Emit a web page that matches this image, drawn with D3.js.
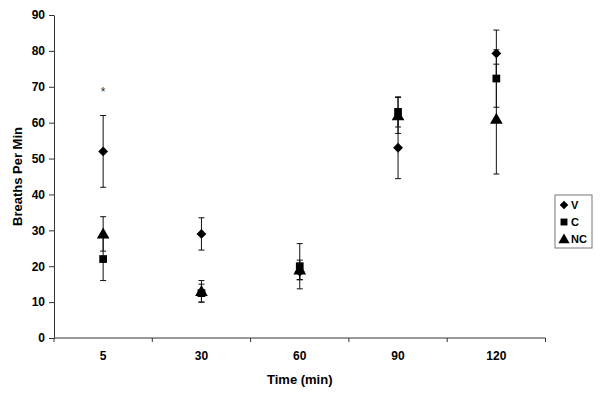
<!DOCTYPE html>
<html>
<head>
<meta charset="utf-8">
<script src="https://cdn.jsdelivr.net/npm/d3@7"></script>
<style>
  body { margin: 0; background: #fff; }
  svg { display: block; font-family: "Liberation Sans", Arial, sans-serif; }
</style>
</head>
<body>
<div id="chart"></div>
<script>
// 数据
const times = ['5', '30', '60', '90', '120'];
const yTicks = [0, 10, 20, 30, 40, 50, 60, 70, 80, 90];
const valuesV = [52, 29, 18.5, 53, 79.3];
const errorsV = [10, 4.5, 2.3, 8.6, 6.5];
const valuesC = [22, 12.5, 20, 63, 72.3];
const errorsC = [6, 2.5, 6.3, 4.2, 8];
const valuesNC = [29, 13, 19, 62, 61];
const errorsNC = [4.8, 3, 2.7, 5, 15.3];
const starNotes = [{ time: '5', value: 69.5, text: '*' }];

const width = 600, height = 394;
const margin = { top: 15, right: 54.5, bottom: 56, left: 54 };
const innerW = width - margin.left - margin.right;
const innerH = height - margin.top - margin.bottom;

const svg = d3.select('#chart').append('svg')
    .attr('width', width)
    .attr('height', height);

const g = svg.append('g')
    .attr('transform', `translate(${margin.left},${margin.top})`);

// 比例尺
const x = d3.scaleBand().domain(times).range([0, innerW]).padding(0);
const y = d3.scaleLinear().domain([0, 90]).range([innerH, 0]);

// y轴
const yAxis = g.append('g')
    .call(d3.axisLeft(y).tickValues(yTicks).tickSize(5).tickSizeOuter(0).tickPadding(4));
yAxis.select('.domain').attr('stroke', '#333');
yAxis.selectAll('.tick line').attr('stroke', '#333');
yAxis.selectAll('.tick text')
    .style('font-size', '12px').style('font-weight', 'bold').attr('fill', '#000');

// x轴 (刻度在类别边界)
const xAxisG = g.append('g').attr('transform', `translate(0,${innerH})`);
xAxisG.append('line')
    .attr('x1', 0).attr('x2', innerW)
    .attr('stroke', '#333');
const bounds = times.map(t => x(t)).concat([innerW]);
xAxisG.selectAll('.xtick')
    .data(bounds)
    .join('line')
    .attr('class', 'xtick')
    .attr('x1', d => d).attr('x2', d => d)
    .attr('y1', 0).attr('y2', 4)
    .attr('stroke', '#333');
xAxisG.selectAll('.xlabel')
    .data(times)
    .join('text')
    .attr('class', 'xlabel')
    .attr('x', d => x(d) + x.bandwidth() / 2)
    .attr('y', 22)
    .attr('text-anchor', 'middle')
    .style('font-size', '12px')
    .style('font-weight', 'bold')
    .text(d => d);

// 轴标题
svg.append('text')
    .attr('x', margin.left + innerW / 2)
    .attr('y', 384)
    .attr('text-anchor', 'middle')
    .style('font-size', '13px')
    .style('font-weight', 'bold')
    .text('Time (min)');

svg.append('text')
    .attr('transform', `translate(22,${margin.top + innerH / 2}) rotate(-90)`)
    .attr('text-anchor', 'middle')
    .style('font-size', '13px')
    .style('font-weight', 'bold')
    .text('Breaths Per Min');

// 标记符号
const symbols = {
    V: d3.symbol().type(d3.symbolDiamond2).size(62),
    C: d3.symbol().type(d3.symbolSquare).size(60),
    NC: d3.symbol().type(d3.symbolTriangle).size(70)
};

const series = [
    { key: 'V', values: valuesV, errors: errorsV },
    { key: 'C', values: valuesC, errors: errorsC },
    { key: 'NC', values: valuesNC, errors: errorsNC }
];

const cx = t => x(t) + x.bandwidth() / 2;
const capW = 3;

// 误差线
series.forEach(s => {
    const eg = g.append('g').attr('class', 'err-' + s.key);
    times.forEach((t, i) => {
        const v = s.values[i], e = s.errors[i];
        const px = cx(t);
        eg.append('line')
            .attr('x1', px).attr('x2', px)
            .attr('y1', y(v + e)).attr('y2', y(v - e))
            .attr('stroke', '#111').attr('stroke-width', 1);
        [v + e, v - e].forEach(val => {
            eg.append('line')
                .attr('x1', px - capW).attr('x2', px + capW)
                .attr('y1', y(val)).attr('y2', y(val))
                .attr('stroke', '#111').attr('stroke-width', 1);
        });
    });
});

// 数据点
series.forEach(s => {
    g.append('g').selectAll('path')
        .data(times.map((t, i) => ({ t, v: s.values[i] })))
        .join('path')
        .attr('d', symbols[s.key])
        .attr('transform', d => `translate(${cx(d.t)},${y(d.v) + (s.key === 'NC' ? 1 : 0)})`)
        .attr('fill', '#000');
});

// 星号注释
g.selectAll('.star')
    .data(starNotes)
    .join('text')
    .attr('class', 'star')
    .attr('x', d => cx(d.time))
    .attr('y', d => y(d.value) + 7)
    .attr('text-anchor', 'middle')
    .style('font-size', '12px')
    .attr('fill', '#333')
    .text(d => d.text);

// 图例
const legend = svg.append('g').attr('transform', 'translate(555,195)');
legend.append('rect')
    .attr('width', 37).attr('height', 53)
    .attr('fill', '#fff')
    .attr('stroke', '#777');
series.forEach((s, i) => {
    const row = legend.append('g').attr('transform', `translate(0,${10 + i * 17})`);
    row.append('path')
        .attr('d', d3.symbol().type(
            s.key === 'V' ? d3.symbolDiamond2 : s.key === 'C' ? d3.symbolSquare : d3.symbolTriangle
        ).size(s.key === 'NC' ? 55 : 48))
        .attr('transform', `translate(9,${s.key === 'NC' ? 1 : 0})`)
        .attr('fill', '#000');
    row.append('text')
        .attr('x', 16).attr('y', 4)
        .style('font-size', '11px')
        .style('font-weight', 'bold')
        .text(s.key);
});
</script>
</body>
</html>
